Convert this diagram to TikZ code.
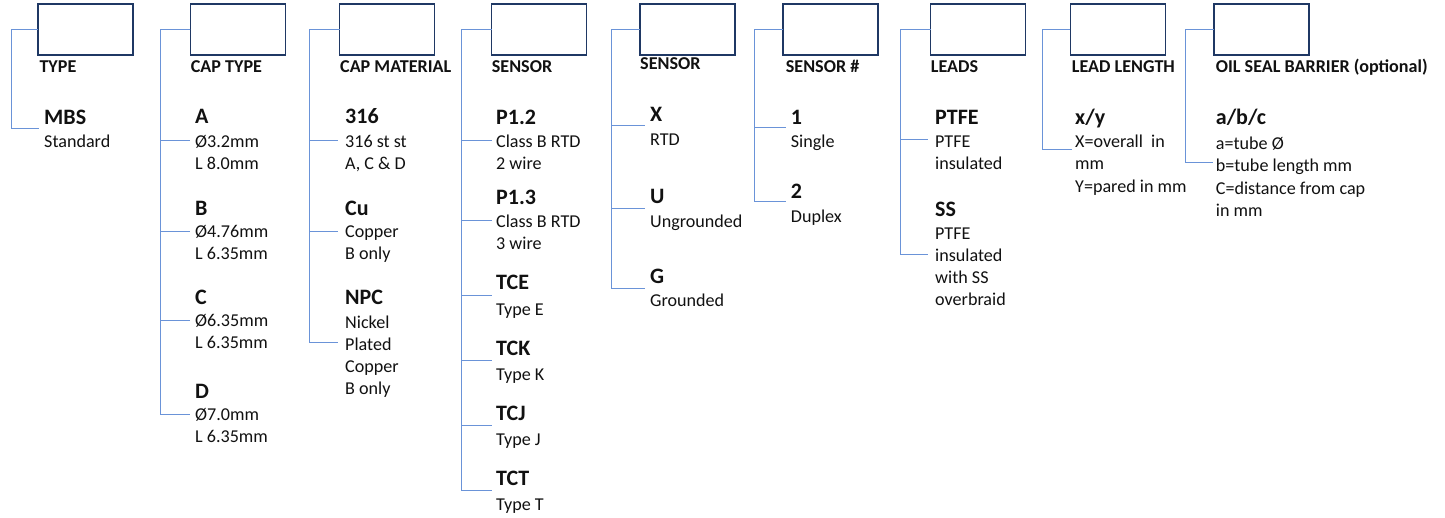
\documentclass[tikz,border=0pt]{standalone}
\usepackage{fontspec}
\setmainfont{Carlito}
\definecolor{boxc}{HTML}{1F3864}
\definecolor{connc}{HTML}{6A93D8}
\definecolor{txtc}{HTML}{111111}
\newcommand\ml[1]{\begin{tabular}[t]{@{}l@{}}#1\end{tabular}}
\tikzset{
 box/.style={draw=boxc, line width=1.4pt, minimum width=95pt, minimum height=51pt, inner sep=0pt, outer sep=0pt},
 lab/.style={anchor=base west, inner sep=0pt, text=txtc, font=\fontsize{18.1}{21}\selectfont\bfseries},
 hd/.style={anchor=base west, inner sep=0pt, text=txtc, font=\fontsize{22}{26}\selectfont\bfseries},
 sb/.style={anchor=base west, inner sep=0pt, text=txtc, font=\fontsize{18.1}{22.3}\selectfont},
 conn/.style={draw=connc, line width=0.85pt},
}
\begin{document}
\begin{tikzpicture}[x=1pt,y=-1pt]
\useasboundingbox (0,0) rectangle (1445,517);
% boxes
\node[box] (b1) at (85.5,29.5) {};
\node[box] (b2) at (237.8,29.5) {};
\node[box] (b3) at (387,29.5) {};
\node[box] (b4) at (539.2,29.5) {};
\node[box] (b5) at (687.5,29.5) {};
\node[box] (b6) at (830.5,29.5) {};
\node[box] (b7) at (978.2,29.5) {};
\node[box] (b8) at (1117.8,29.5) {};
\node[box] (b9) at (1261.5,29.5) {};
% labels
\node[lab] (l1) at (39.3,72.7) {TYPE};
\node[lab] (l2) at (190.7,72.7) {CAP TYPE};
\node[lab] (l3) at (340,72.7) {CAP MATERIAL};
\node[lab] (l4) at (491.7,72.7) {SENSOR};
\node[lab] (l5) at (640,69) {SENSOR};
\node[lab] (l6) at (785.7,72.7) {SENSOR \#};
\node[lab] (l7) at (930.7,72.7) {LEADS};
\node[lab] (l8) at (1071.7,72.7) {LEAD LENGTH};
\node[lab] (l9) at (1215.7,72.7) {OIL SEAL BARRIER (optional)};
% column 1
\node[hd] (h1a) at (44,124) {MBS};
\node[sb] (s1a) at (44,147.5) {Standard};
\coordinate (c1a) at (39,128);
\draw[conn] (b1.west) -- ++(-27,0) |- (c1a);
% column 2
\node[hd] (h2a) at (195,123.5) {A};
\node[sb] (s2a) at (195,147.3) {\ml{Ø3.2mm\\L 8.0mm}};
\node[hd] (h2b) at (195,215.5) {B};
\node[sb] (s2b) at (195,237) {\ml{Ø4.76mm\\L 6.35mm}};
\node[hd] (h2c) at (195,304) {C};
\node[sb] (s2c) at (195,326) {\ml{Ø6.35mm\\L 6.35mm}};
\node[hd] (h2d) at (195,398) {D};
\node[sb] (s2d) at (195,420) {\ml{Ø7.0mm\\L 6.35mm}};
\coordinate (c2a) at (190,140);
\coordinate (c2b) at (190,231);
\coordinate (c2c) at (190,320);
\coordinate (c2d) at (190,414);
\foreach \c in {c2a,c2b,c2c,c2d} \draw[conn] (b2.west) -- ++(-29.4,0) |- (\c);
% column 3
\node[hd] (h3a) at (345,123.5) {316};
\node[sb] (s3a) at (345,147.3) {\ml{316 st st\\A, C \& D}};
\node[hd] (h3b) at (345,215.5) {Cu};
\node[sb] (s3b) at (345,237) {\ml{Copper\\B only}};
\node[hd] (h3c) at (345,304) {NPC};
\node[sb] (s3c) at (345,328) {\ml{Nickel\\Plated\\Copper\\B only}};
\coordinate (c3a) at (338,140);
\coordinate (c3b) at (338,231);
\coordinate (c3c) at (338,342);
\foreach \c in {c3a,c3b,c3c} \draw[conn] (b3.west) -- ++(-30,0) |- (\c);
% column 4
\node[hd] (h4a) at (496,124.5) {P1.2};
\node[sb] (s4a) at (496,147) {\ml{Class B RTD\\2 wire}};
\node[hd] (h4b) at (496,204) {P1.3};
\node[sb] (s4b) at (496,227.5) {\ml{Class B RTD\\3 wire}};
\node[hd] (h4c) at (496,289.5) {TCE};
\node[sb] (s4c) at (496,315) {Type E};
\node[hd] (h4d) at (496,355.5) {TCK};
\node[sb] (s4d) at (496,380) {Type K};
\node[hd] (h4e) at (496,420.5) {TCJ};
\node[sb] (s4e) at (496,445) {Type J};
\node[hd] (h4f) at (496,485.5) {TCT};
\node[sb] (s4f) at (496,510) {Type T};
\coordinate (c4a) at (491.7,140);
\coordinate (c4b) at (491.7,220);
\coordinate (c4c) at (491.7,295);
\coordinate (c4d) at (491.7,360);
\coordinate (c4e) at (491.7,425);
\coordinate (c4f) at (491.7,490.7);
\foreach \c in {c4a,c4b,c4c,c4d,c4e,c4f} \draw[conn] (b4.west) -- ++(-30,0) |- (\c);
% column 5
\node[hd] (h5a) at (650,121.5) {X};
\node[sb] (s5a) at (650,145) {RTD};
\node[hd] (h5b) at (650,203) {U};
\node[sb] (s5b) at (650,227.5) {Ungrounded};
\node[hd] (h5c) at (650,283.5) {G};
\node[sb] (s5c) at (650,306) {Grounded};
\coordinate (c5a) at (645,125.7);
\coordinate (c5b) at (645,208.3);
\coordinate (c5c) at (645,288.3);
\foreach \c in {c5a,c5b,c5c} \draw[conn] (b5.west) -- ++(-28.3,0) |- (\c);
% column 6
\node[hd] (h6a) at (790.7,124.5) {1};
\node[sb] (s6a) at (790.7,147.5) {Single};
\node[hd] (h6b) at (790.7,198.5) {2};
\node[sb] (s6b) at (790.7,222) {Duplex};
\coordinate (c6a) at (786,127.7);
\coordinate (c6b) at (786,201.7);
\foreach \c in {c6a,c6b} \draw[conn] (b6.west) -- ++(-28.7,0) |- (\c);
% column 7
\node[hd] (h7a) at (935,124) {PTFE};
\node[sb] (s7a) at (935,147.5) {\ml{PTFE\\insulated}};
\node[hd] (h7b) at (935,216.5) {SS};
\node[sb] (s7b) at (935,239) {\ml{PTFE\\insulated\\with SS\\overbraid}};
\coordinate (c7a) at (928,139);
\coordinate (c7b) at (928,254);
\foreach \c in {c7a,c7b} \draw[conn] (b7.west) -- ++(-30.7,0) |- (\c);
% column 8
\node[hd] (h8a) at (1075,124.5) {x/y};
\node[sb] (s8a) at (1075,147.5) {\ml{X=overall\ \ in\\mm\\Y=pared in mm}};
\coordinate (c8a) at (1071.7,149.3);
\draw[conn] (b8.west) -- ++(-28,0) |- (c8a);
% column 9
\node[hd] (h9a) at (1215.7,124.5) {a/b/c};
\node[sb] (s9a) at (1215.7,149.5) {\ml{a=tube Ø\\b=tube length mm\\C=distance from cap\\in mm}};
\coordinate (c9a) at (1213.3,162.7);
\draw[conn] (b9.west) -- ++(-29,0) |- (c9a);
\end{tikzpicture}
\end{document}
